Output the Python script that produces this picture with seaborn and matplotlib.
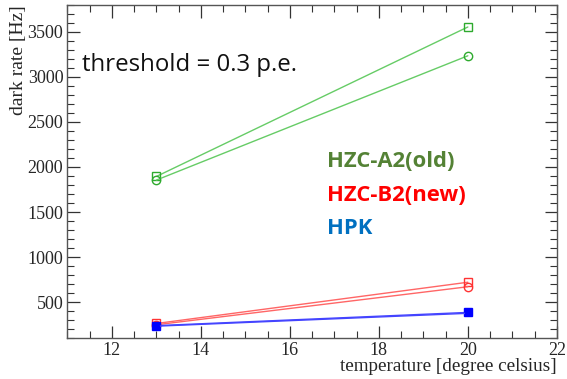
import matplotlib
matplotlib.use("Agg")
import matplotlib.pyplot as plt
from matplotlib.ticker import MultipleLocator
import pandas as pd
import seaborn as sb

# dark rate vs temperature
temps = [13, 20]
a2_square = [1895, 3555]
a2_circle = [1855, 3235]
b2_square = [262, 720]
b2_circle = [248, 670]
hpk_square = [238, 385]
hpk_circle = [232, 375]

series = {
    "A2_sq": a2_square, "A2_ci": a2_circle,
    "B2_sq": b2_square, "B2_ci": b2_circle,
    "HPK_sq": hpk_square, "HPK_ci": hpk_circle,
}
rows = []
for name, vals in series.items():
    for t, v in zip(temps, vals):
        rows.append({"series": name, "temperature": t, "rate": v})
df = pd.DataFrame(rows)

sb.set_style("ticks")
plt.rcParams["font.family"] = ["Liberation Serif", "DejaVu Serif"]

fig = plt.figure(figsize=(5.67, 3.79), dpi=100)
ax = fig.add_axes([0.119, 0.108, 0.863, 0.879])

styles = {
    "A2_sq": ("#66cc66", "#2eaa2e", "s", "none", 6),
    "A2_ci": ("#66cc66", "#2eaa2e", "o", "none", 6),
    "B2_sq": ("#ff6666", "#ff3333", "s", "none", 6),
    "B2_ci": ("#ff6666", "#ff3333", "o", "none", 6),
    "HPK_sq": ("#4444ff", "#0000ff", "s", "#0000ff", 6),
    "HPK_ci": ("#4444ff", "#0000ff", "o", "#0000ff", 4),
}
for name, (lc, mc, mk, mfc, ms) in styles.items():
    sb.lineplot(data=df[df["series"] == name], x="temperature", y="rate", ax=ax,
                color=lc, lw=1.0, marker=mk, markersize=ms, markeredgecolor=mc,
                markerfacecolor=mfc, markeredgewidth=1.0, legend=False)

ax.set_xlim(11, 22)
ax.set_ylim(100, 3800)
ax.xaxis.set_major_locator(MultipleLocator(2))
ax.xaxis.set_minor_locator(MultipleLocator(0.5))
ax.yaxis.set_major_locator(MultipleLocator(500))
ax.yaxis.set_minor_locator(MultipleLocator(100))
ax.set_xticks([12, 14, 16, 18, 20, 22])
ax.set_yticks([500, 1000, 1500, 2000, 2500, 3000, 3500])
ax.tick_params(which="both", direction="in", top=True, right=True,
               labeltop=False, labelright=False, labelsize=13, color="#333333")
ax.tick_params(which="major", length=9, width=0.9, pad=3)
ax.tick_params(which="minor", length=5, width=0.8)
for s in ax.spines.values():
    s.set_color("#555555")
    s.set_linewidth(1.0)

ax.set_xlabel("")
ax.set_ylabel("")
fig.text(0.982, 0.032, "temperature [degree celsius]", ha="right", va="center", fontsize=13.8)
fig.text(0.033, 0.987, "dark rate [Hz]", ha="center", va="top", rotation=90, fontsize=14)

fig.text(0.145, 0.829, "threshold = 0.3 p.e.", ha="left", va="center", fontsize=17.3,
         family=["Open Sans", "DejaVu Sans"], color="#111111")
fig.text(0.577, 0.573, "HZC-A2(old)", ha="left", va="center", fontsize=15.8,
         fontweight="bold", color="#548235", family=["Open Sans", "DejaVu Sans"])
fig.text(0.577, 0.485, "HZC-B2(new)", ha="left", va="center", fontsize=15.8,
         fontweight="bold", color="#ff0000", family=["Open Sans", "DejaVu Sans"])
fig.text(0.577, 0.398, "HPK", ha="left", va="center", fontsize=15.8,
         fontweight="bold", color="#0070c0", family=["Open Sans", "DejaVu Sans"])

fig.savefig("out.png", dpi=100)
